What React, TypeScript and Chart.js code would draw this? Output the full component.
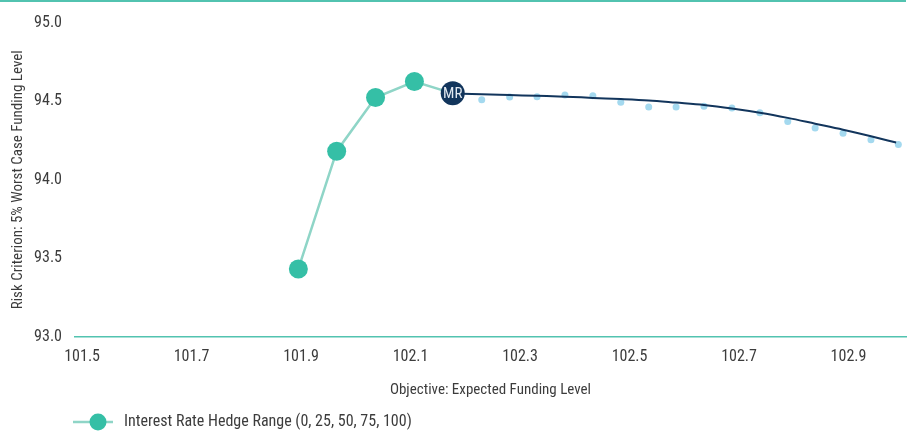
import React, { useEffect, useRef } from 'react';
import { Chart, registerables } from 'chart.js';

Chart.register(...registerables);

const FONT = "'Liberation Sans Narrow', 'Roboto Condensed', 'Arial Narrow', 'DejaVu Sans Condensed', sans-serif";
const TEXT = '#3c3c3c';
const TEAL = '#35bfa6';
const TEAL_LINE = '#8fd5c7';
const AXIS_TEAL = '#52c3b0';
const NAVY = '#12355c';
const DOT = '#a4d9ef';

// Axis ticks
const xTicks = [101.5, 101.7, 101.9, 102.1, 102.3, 102.5, 102.7, 102.9];
const yTicks = [93.0, 93.5, 94.0, 94.5, 95.0];

// Interest Rate Hedge Range (0, 25, 50, 75, 100) – last point is the MR portfolio
const hedgeX = [101.895, 101.965, 102.036, 102.107, 102.177];
const hedgeY = [93.433, 94.182, 94.523, 94.625, 94.55];

// MR portfolio
const mrX = [102.177];
const mrY = [94.55];

// Frontier line
const frontierX = [102.177, 102.23, 102.281, 102.331, 102.382, 102.433, 102.484, 102.535, 102.585, 102.636, 102.687, 102.738, 102.789, 102.839, 102.89, 102.941, 102.987];
const frontierY = [94.55, 94.544, 94.539, 94.534, 94.529, 94.521, 94.514, 94.505, 94.491, 94.476, 94.454, 94.427, 94.394, 94.357, 94.319, 94.277, 94.237];

// Sampled portfolios (light blue dots)
const sampleX = [102.23, 102.281, 102.331, 102.382, 102.433, 102.484, 102.535, 102.585, 102.636, 102.687, 102.738, 102.789, 102.839, 102.89, 102.941, 102.991];
const sampleY = [94.51, 94.526, 94.529, 94.539, 94.535, 94.493, 94.463, 94.463, 94.468, 94.457, 94.426, 94.371, 94.329, 94.296, 94.254, 94.224];

const legendText = 'Interest Rate Hedge Range (0, 25, 50, 75, 100)';

const pts = (xs: number[], ys: number[]) => xs.map((x, i) => ({ x, y: ys[i] }));

function makeLegendImage(): HTMLCanvasElement {
  const c = document.createElement('canvas');
  c.width = 116;
  c.height = 20;
  const ctx = c.getContext('2d')!;
  ctx.strokeStyle = TEAL_LINE;
  ctx.lineWidth = 2.5;
  ctx.beginPath();
  ctx.moveTo(72, 10);
  ctx.lineTo(112, 10);
  ctx.stroke();
  ctx.fillStyle = TEAL;
  ctx.beginPath();
  ctx.arc(97, 10, 8.5, 0, Math.PI * 2);
  ctx.fill();
  return c;
}

const topLinePlugin = {
  id: 'topLine',
  beforeDraw(chart: any) {
    const { ctx, chartArea } = chart;
    ctx.save();
    ctx.fillStyle = AXIS_TEAL;
    ctx.fillRect(0, 0, chartArea.right, 2);
    ctx.restore();
  },
};

const mrLabelPlugin = {
  id: 'mrLabel',
  afterDatasetsDraw(chart: any) {
    const meta = chart.getDatasetMeta(0);
    const { ctx } = chart;
    ctx.save();
    ctx.fillStyle = '#e3eaf2';
    ctx.font = `15px ${FONT}`;
    ctx.textAlign = 'center';
    ctx.textBaseline = 'middle';
    meta.data.forEach((el: any) => {
      ctx.fillText('MR', el.x, el.y + 1);
    });
    ctx.restore();
  },
};

export default function App() {
  const ref = useRef<HTMLCanvasElement | null>(null);

  useEffect(() => {
    document.body.style.margin = '0';
    if (!ref.current) return;
    const legendImg = makeLegendImage();
    const chart = new Chart(ref.current, {
      type: 'scatter',
      data: {
        datasets: [
          {
            label: 'MR',
            data: pts(mrX, mrY),
            showLine: false,
            pointRadius: 12,
            pointHoverRadius: 12,
            backgroundColor: NAVY,
            borderWidth: 0,
            order: 0,
          },
          {
            label: legendText,
            data: pts(hedgeX, hedgeY),
            showLine: true,
            borderColor: TEAL_LINE,
            borderWidth: 2.5,
            pointRadius: [9.5, 9.5, 9.5, 9.5, 0],
            pointHoverRadius: [9.5, 9.5, 9.5, 9.5, 0],
            pointBackgroundColor: TEAL,
            pointBorderWidth: 0,
            backgroundColor: TEAL,
            order: 1,
          },
          {
            label: 'Frontier',
            data: pts(frontierX, frontierY),
            showLine: true,
            borderColor: NAVY,
            borderWidth: 2,
            pointRadius: 0,
            cubicInterpolationMode: 'monotone',
            order: 2,
          },
          {
            label: 'Portfolios',
            data: pts(sampleX, sampleY),
            showLine: false,
            pointRadius: 3.5,
            backgroundColor: DOT,
            borderWidth: 0,
            order: 3,
          },
        ],
      },
      options: {
        animation: false,
        responsive: false,
        layout: { padding: { top: 19, right: 7, left: 0, bottom: 0 } },
        scales: {
          x: {
            type: 'linear',
            min: 101.487,
            max: 103.005,
            afterBuildTicks: (scale: any) => {
              scale.ticks = xTicks.map((value) => ({ value }));
            },
            afterFit: (scale: any) => {
              scale.height = 75;
            },
            grid: { display: false, drawTicks: false },
            border: { display: true, color: AXIS_TEAL, width: 1.5 },
            ticks: {
              padding: 10,
              color: TEXT,
              font: { family: FONT, size: 16 },
              callback: (v: any) => Number(v).toFixed(1),
              maxRotation: 0,
              autoSkip: false,
            },
            title: {
              display: true,
              text: 'Objective: Expected Funding Level',
              color: TEXT,
              font: { family: FONT, size: 15 },
              padding: { top: 4, bottom: 13 },
            },
          },
          y: {
            type: 'linear',
            min: 93,
            max: 95,
            afterBuildTicks: (scale: any) => {
              scale.ticks = yTicks.map((value) => ({ value }));
            },
            afterFit: (scale: any) => {
              scale.width = 75;
            },
            grid: { display: false, drawTicks: false },
            border: { display: false },
            ticks: {
              padding: 13,
              color: TEXT,
              font: { family: FONT, size: 16 },
              callback: (v: any) => Number(v).toFixed(1),
            },
            title: {
              display: true,
              text: 'Risk Criterion: 5% Worst Case Funding Level',
              color: TEXT,
              font: { family: FONT, size: 15 },
              padding: { top: 9, bottom: 4 },
            },
          },
        },
        plugins: {
          tooltip: { enabled: false },
          legend: {
            position: 'bottom',
            align: 'start',
            maxHeight: 20,
            labels: {
              usePointStyle: true,
              pointStyleWidth: 114,
              padding: 2,
              color: TEXT,
              font: { family: FONT, size: 16 },
              generateLabels: () => [
                {
                  text: legendText,
                  pointStyle: legendImg as any,
                  fillStyle: TEAL,
                  strokeStyle: TEAL,
                  lineWidth: 0,
                  hidden: false,
                  datasetIndex: 1,
                  fontColor: TEXT,
                },
              ],
            },
          },
        },
      },
      plugins: [topLinePlugin, mrLabelPlugin],
    } as any);
    return () => chart.destroy();
  }, []);

  return (
    <div style={{ width: 918, height: 432 }}>
      <canvas ref={ref} width={918} height={432} style={{ display: 'block' }} />
    </div>
  );
}
